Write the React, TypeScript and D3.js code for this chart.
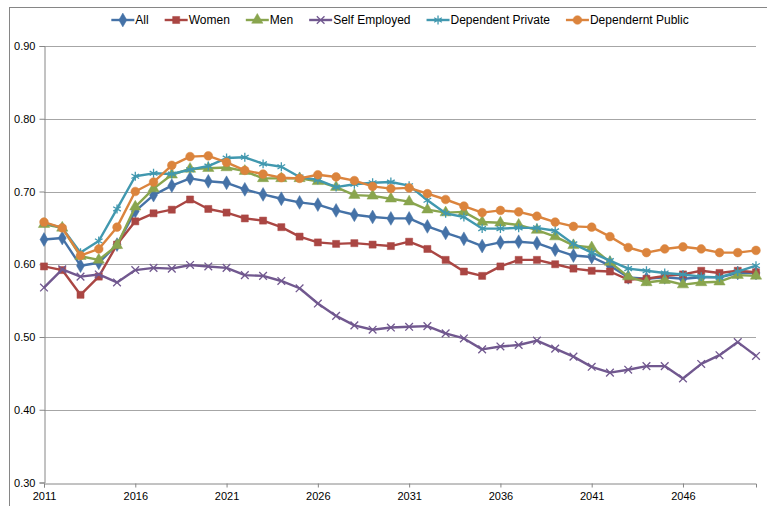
import React, { useEffect, useRef } from "react";
import * as d3 from "d3";

const years = d3.range(2011, 2051);
const tickYears = [2011, 2016, 2021, 2026, 2031, 2036, 2041, 2046];
const yTicks = [0.3, 0.4, 0.5, 0.6, 0.7, 0.8, 0.9];

const allSeries = [
  0.634, 0.636, 0.598, 0.602, 0.627, 0.673, 0.695, 0.708, 0.718, 0.714,
  0.712, 0.703, 0.696, 0.69, 0.685, 0.682, 0.674, 0.668, 0.665, 0.663,
  0.663, 0.652, 0.643, 0.635, 0.625, 0.63, 0.631, 0.629, 0.62, 0.612,
  0.61, 0.598, 0.582, 0.58, 0.582, 0.58, 0.582, 0.582, 0.588, 0.588,
];
const women = [
  0.597, 0.592, 0.558, 0.583, 0.627, 0.659, 0.67, 0.675, 0.689, 0.676,
  0.671, 0.663, 0.66, 0.651, 0.638, 0.63, 0.628, 0.629, 0.627, 0.625,
  0.631, 0.621, 0.606, 0.59, 0.584, 0.597, 0.606, 0.606, 0.6, 0.594,
  0.591, 0.59, 0.579, 0.58, 0.584, 0.586, 0.591, 0.588, 0.591, 0.589,
];
const men = [
  0.655, 0.65, 0.611, 0.606, 0.626, 0.679, 0.704, 0.723, 0.731, 0.732,
  0.733, 0.728, 0.718, 0.718, 0.718, 0.714, 0.706, 0.695, 0.694, 0.69,
  0.686, 0.675, 0.671, 0.672, 0.658, 0.657, 0.654, 0.647, 0.638, 0.626,
  0.623, 0.603, 0.583, 0.575, 0.578, 0.572, 0.575, 0.576, 0.585, 0.584,
];
const selfEmployed = [
  0.568, 0.593, 0.583, 0.586, 0.575, 0.592, 0.595, 0.594, 0.599, 0.597,
  0.595, 0.585, 0.584, 0.577, 0.567, 0.546, 0.529, 0.516, 0.51, 0.513,
  0.514, 0.515, 0.505, 0.498, 0.483, 0.487, 0.489, 0.495, 0.484, 0.473,
  0.459, 0.451, 0.455, 0.46, 0.46, 0.443, 0.463, 0.475, 0.493, 0.474,
];
const depPrivate = [
  0.657, 0.65, 0.616, 0.632, 0.676, 0.721, 0.725, 0.724, 0.73, 0.735,
  0.746, 0.747, 0.738, 0.734, 0.72, 0.716, 0.706, 0.71, 0.712, 0.713,
  0.708, 0.688, 0.67, 0.665, 0.649, 0.649, 0.65, 0.65, 0.646, 0.628,
  0.616, 0.605, 0.594, 0.591, 0.588, 0.586, 0.583, 0.582, 0.59, 0.598,
];
const depPublic = [
  0.658, 0.65, 0.612, 0.621, 0.651, 0.7, 0.713, 0.736, 0.748, 0.749,
  0.74, 0.729, 0.724, 0.719, 0.718, 0.723, 0.72, 0.715, 0.707, 0.704,
  0.705, 0.697, 0.689, 0.68, 0.671, 0.674, 0.672, 0.666, 0.658, 0.652,
  0.651, 0.638, 0.623, 0.616, 0.621, 0.624, 0.621, 0.616, 0.616, 0.619,
];

const seriesNames = ["All", "Women", "Men", "Self Employed", "Dependent Private", "Dependernt Public"];
const seriesValues = [allSeries, women, men, selfEmployed, depPrivate, depPublic];
const colors = ["#4572A7", "#AA4643", "#89A54E", "#71588F", "#4198AF", "#DB843D"];
const symbols = [d3.symbolDiamond, d3.symbolSquare, d3.symbolTriangle, d3.symbolX, d3.symbolAsterisk, d3.symbolCircle];
const symbolSizes = [55, 50, 55, 40, 55, 60];
const strokeSymbol = [false, false, false, true, true, false];

const FONT = "'Liberation Sans Narrow', 'Arial Narrow', 'Liberation Sans', sans-serif";

function Chart() {
  const ref = useRef<SVGSVGElement>(null);

  useEffect(() => {
    const width = 767;
    const height = 506;
    const margin = { top: 46, right: 11, bottom: 23.5, left: 44 };

    const svg = d3.select(ref.current);
    svg.selectAll("*").remove();

    // chart frame
    svg
      .append("rect")
      .attr("x", 9.5)
      .attr("y", 7.5)
      .attr("width", 900)
      .attr("height", 700)
      .attr("fill", "white")
      .attr("stroke", "#868686")
      .attr("stroke-width", 1);

    const x = d3
      .scaleLinear()
      .domain([2011, 2050])
      .range([margin.left, width - margin.right]);
    const y = d3
      .scaleLinear()
      .domain([0.3, 0.9])
      .range([height - margin.bottom, margin.top]);

    // gridlines
    svg
      .append("g")
      .selectAll("line")
      .data(yTicks.slice(1))
      .enter()
      .append("line")
      .attr("x1", x(2011))
      .attr("x2", x(2050))
      .attr("y1", (d) => Math.round(y(d)) + 0.5)
      .attr("y2", (d) => Math.round(y(d)) + 0.5)
      .attr("stroke", "#a6a6a6")
      .attr("stroke-width", 1.2);

    // y axis
    const yAxis = d3
      .axisLeft(y)
      .tickValues(yTicks)
      .tickSize(5)
      .tickFormat(d3.format(".2f"));
    const gy = svg
      .append("g")
      .attr("transform", "translate(" + (Math.round(x(2011)) + 0.5) + ",0)")
      .call(yAxis);
    gy.select(".domain").attr("stroke", "#868686");
    gy.selectAll(".tick line").attr("stroke", "#868686");
    gy.selectAll(".tick text")
      .attr("x", -9)
      .style("font-family", FONT)
      .style("font-size", "11px")
      .attr("fill", "#000");

    // x axis
    const xAxis = d3
      .axisBottom(x)
      .tickValues(tickYears)
      .tickSize(4)
      .tickFormat(d3.format("d"));
    const gx = svg
      .append("g")
      .attr("transform", "translate(0," + (Math.round(y(0.3)) + 0.5) + ")")
      .call(xAxis);
    gx.select(".domain").attr("stroke", "#868686");
    gx.selectAll(".tick line").attr("stroke", "#868686");
    gx.selectAll(".tick text")
      .attr("y", 9)
      .style("font-family", FONT)
      .style("font-size", "11px")
      .attr("fill", "#000");

    const line = d3
      .line<number>()
      .x((d, i) => x(years[i]))
      .y((d) => y(d));

    seriesValues.forEach((values, s) => {
      const g = svg.append("g");
      g.append("path")
        .attr("d", line(values))
        .attr("fill", "none")
        .attr("stroke", colors[s])
        .attr("stroke-width", 2.4)
        .attr("stroke-linejoin", "round");

      const sym = d3.symbol().type(symbols[s]).size(symbolSizes[s]);
      g.selectAll("path.mark")
        .data(values)
        .enter()
        .append("path")
        .attr("class", "mark")
        .attr("d", sym)
        .attr("transform", (d, i) => "translate(" + x(years[i]) + "," + y(d) + ")")
        .attr("fill", strokeSymbol[s] ? "none" : colors[s])
        .attr("stroke", colors[s])
        .attr("stroke-width", strokeSymbol[s] ? 1.3 : 0.5);
    });

    // legend
    const legend = svg.append("g");
    const items = legend
      .selectAll("g")
      .data(seriesNames)
      .enter()
      .append("g");
    items
      .append("line")
      .attr("x1", 0)
      .attr("x2", 23)
      .attr("y1", 0)
      .attr("y2", 0)
      .attr("stroke", (d, i) => colors[i])
      .attr("stroke-width", 2.4);
    items
      .append("path")
      .attr("d", (d, i) => d3.symbol().type(symbols[i]).size(symbolSizes[i])())
      .attr("transform", "translate(11.5,0)")
      .attr("fill", (d, i) => (strokeSymbol[i] ? "none" : colors[i]))
      .attr("stroke", (d, i) => colors[i])
      .attr("stroke-width", (d, i) => (strokeSymbol[i] ? 1.3 : 0.5));
    items
      .append("text")
      .attr("x", 24)
      .attr("dy", "0.35em")
      .style("font-family", FONT)
      .style("font-size", "12px")
      .attr("fill", "#000")
      .text((d) => d);

    let offset = 0;
    const widths: number[] = [];
    items.each(function () {
      const t = d3.select(this).select("text").node() as SVGTextElement;
      widths.push(24 + t.getComputedTextLength());
    });
    const gap = 16;
    const total = d3.sum(widths) + gap * (widths.length - 1);
    const start = (x(2011) + x(2050)) / 2 - total / 2;
    items.attr("transform", (d, i) => {
      const tx = start + offset;
      offset += widths[i] + gap;
      return "translate(" + tx + ",20)";
    });
  }, []);

  return <svg ref={ref} width={767} height={506} style={{ display: "block" }} />;
}

export default function App() {
  return (
    <div style={{ position: "absolute", left: 0, top: 0, width: 767, height: 506, overflow: "hidden", background: "white" }}>
      <Chart />
    </div>
  );
}
